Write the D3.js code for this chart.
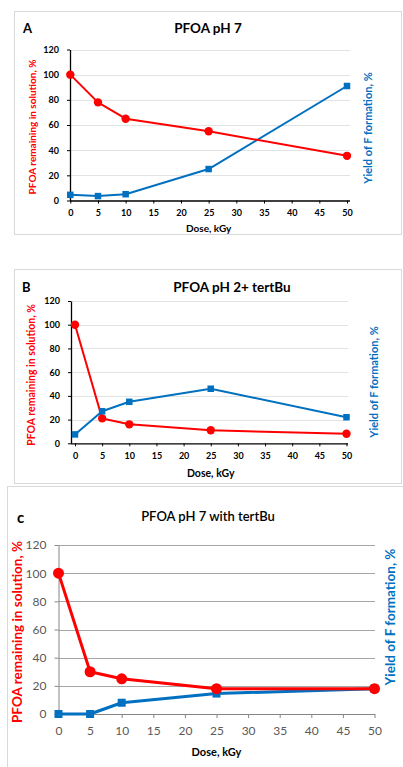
<!DOCTYPE html>
<html><head><meta charset="utf-8">
<script src="https://cdn.jsdelivr.net/npm/d3@7"></script>
<style>body{margin:0;background:#fff;}svg{display:block;}</style>
</head><body>
<svg id="chart" width="403" height="767"></svg>
<script>
// ---- data ----
const doses = [0, 5, 10, 25, 50];
const xTicks = [0, 5, 10, 15, 20, 25, 30, 35, 40, 45, 50];
const yTicks = [0, 20, 40, 60, 80, 100, 120];

const titleA = "PFOA pH 7";
const remainingA = [100, 78, 65, 55, 35.5];
const yieldA = [4.5, 3.5, 5, 25, 91];

const titleB = "PFOA pH 2+ tertBu";
const remainingB = [100, 21, 16, 11, 8];
const yieldB = [7.5, 27, 35, 46, 22];

const titleC = "PFOA pH 7 with tertBu";
const remainingC = [100, 30, 25, 18, 18];
const yieldC = [0, 0, 8, 14.5, 18];

const leftLabel = "PFOA remaining in solution, %";
const rightLabel = "Yield of F formation, %";
const xLabel = "Dose, kGy";

const RED = "#ff0000", BLUE = "#0070c0";
const svg = d3.select("#chart");

function panel(o) {
  const g = svg.append("g");
  // frame
  g.append("rect").attr("x", o.box[0]+0.5).attr("y", o.box[1]+0.5)
    .attr("width", o.box[2]-o.box[0]).attr("height", o.box[3]-o.box[1])
    .attr("fill", "#fff").attr("stroke", "#d9d9d9").attr("stroke-width", 1);
  const x = d3.scaleLinear().domain([0, 50]).range(o.xr);
  const y = d3.scaleLinear().domain([0, 120]).range(o.yr);
  // gridlines
  g.append("g").selectAll("line").data(yTicks.filter(t => t > 0)).join("line")
    .attr("x1", o.axisX).attr("x2", o.gridEnd)
    .attr("y1", d => Math.round(y(d)) + 0.5).attr("y2", d => Math.round(y(d)) + 0.5)
    .attr("stroke", o.gridColor).attr("stroke-width", 1);
  // x axis
  const xa = g.append("g").attr("transform", `translate(0,${y(0)})`)
    .call(d3.axisBottom(x).tickValues(xTicks).tickSize(o.tick).tickSizeOuter(0).tickPadding(o.xPad));
  xa.select(".domain").attr("stroke", o.axisColor).attr("stroke-width", o.axisW)
    .attr("d", `M${o.axisX},0.5H${o.gridEnd}`);
  xa.selectAll(".tick line").attr("stroke", o.axisColor);
  xa.selectAll("text").attr("font-family", o.font).attr("font-size", o.tickFs)
    .attr("font-weight", o.tickW).attr("fill", o.tickColor);
  // y axis
  const ya = g.append("g").attr("transform", `translate(${o.axisX},0)`)
    .call(d3.axisLeft(y).tickValues(yTicks).tickSize(o.tick).tickSizeOuter(0).tickPadding(o.yPad));
  ya.select(".domain").attr("stroke", o.axisColor).attr("stroke-width", o.axisW);
  ya.selectAll(".tick line").attr("stroke", o.axisColor);
  ya.selectAll("text").attr("font-family", o.font).attr("font-size", o.tickFs)
    .attr("font-weight", o.tickW).attr("fill", o.tickColor);
  // titles
  g.append("text").attr("x", o.titleX).attr("y", o.titleY).attr("text-anchor", "middle")
    .attr("font-family", o.font).attr("font-size", o.titleFs).attr("font-weight", o.titleW)
    .attr("fill", "#000").text(o.title);
  g.append("text").attr("x", o.letterX).attr("y", o.letterY)
    .attr("font-family", o.font).attr("font-size", o.letterFs).attr("font-weight", "bold")
    .attr("fill", "#000").text(o.letter);
  g.append("text").attr("x", (o.xr[0] + o.xr[1]) / 2 + o.xLabDx).attr("y", o.xLabY).attr("text-anchor", "middle")
    .attr("font-family", o.font).attr("font-size", o.labFs).attr("font-weight", "bold")
    .attr("fill", "#000").text(xLabel);
  g.append("text").attr("transform", `translate(${o.leftLab[0]},${o.leftLab[1]}) rotate(-90)`)
    .attr("text-anchor", "middle").attr("dominant-baseline", "central")
    .attr("font-family", o.font).attr("font-size", o.leftFs).attr("font-weight", "bold")
    .attr("fill", RED).text(leftLabel);
  g.append("text").attr("transform", `translate(${o.rightLab[0]},${o.rightLab[1]}) rotate(-90)`)
    .attr("text-anchor", "middle").attr("dominant-baseline", "central")
    .attr("font-family", o.font).attr("font-size", o.rightFs).attr("font-weight", "bold")
    .attr("fill", BLUE).text(rightLabel);
  // series
  const line = d3.line().x(d => x(d[0])).y(d => y(d[1]));
  const yd = doses.map((d, i) => [d, o.yieldV[i]]);
  const rd = doses.map((d, i) => [d, o.remV[i]]);
  g.append("path").datum(yd).attr("d", line).attr("fill", "none")
    .attr("stroke", BLUE).attr("stroke-width", o.lw).attr("stroke-linejoin", "round");
  g.append("path").datum(rd).attr("d", line).attr("fill", "none")
    .attr("stroke", RED).attr("stroke-width", o.lw).attr("stroke-linejoin", "round");
  const drawYield = () => g.append("g").selectAll("rect").data(yd).join("rect")
    .attr("x", d => x(d[0]) - o.sq / 2).attr("y", d => y(d[1]) - o.sq / 2)
    .attr("width", o.sq).attr("height", o.sq).attr("fill", BLUE);
  const drawRem = () => g.append("g").selectAll("circle").data(rd).join("circle")
    .attr("cx", d => x(d[0])).attr("cy", d => y(d[1])).attr("r", o.r).attr("fill", RED);
  if (o.yieldOnTop) { drawRem(); drawYield(); } else { drawYield(); drawRem(); }
}

const boldFont = "Lato, 'Open Sans', sans-serif";

panel({
  box: [14, 11, 401, 234], letter: "A", letterX: 23, letterY: 33, letterFs: 13,
  title: titleA, titleX: 208, titleY: 33, titleFs: 13.5, titleW: "bold",
  xr: [70.3, 347], yr: [200.5, 49.5], axisX: 70, gridEnd: 350,
  gridColor: "#e3e3e3", axisColor: "#000", axisW: 1.3, tick: 3, xPad: 6, yPad: 8,
  font: boldFont, tickFs: 9, tickW: "bold", tickColor: "#000",
  xLabY: 232, xLabDx: 0, labFs: 10, leftLab: [32, 127], leftFs: 10, rightLab: [367, 128], rightFs: 11,
  remV: remainingA, yieldV: yieldA, lw: 2, r: 4.2, sq: 6.5, yieldOnTop: false
});

panel({
  box: [14, 269, 401, 483], letter: "B", letterX: 22, letterY: 292, letterFs: 13,
  title: titleB, titleX: 232, titleY: 292, titleFs: 13.5, titleW: "bold",
  xr: [75, 346.5], yr: [443.3, 301], axisX: 71, gridEnd: 348,
  gridColor: "#e3e3e3", axisColor: "#000", axisW: 1.3, tick: 3, xPad: 6, yPad: 8,
  font: boldFont, tickFs: 9, tickW: "bold", tickColor: "#000",
  xLabY: 477, xLabDx: 0, labFs: 10.5, leftLab: [31, 375], leftFs: 10.5, rightLab: [373, 382], rightFs: 11,
  remV: remainingB, yieldV: yieldB, lw: 2, r: 4.2, sq: 6.5, yieldOnTop: true
});

panel({
  box: [7, 486, 410, 780], letter: "c", letterX: 17, letterY: 523, letterFs: 15,
  title: titleC, titleX: 208, titleY: 521, titleFs: 13, titleW: 600,
  xr: [58.5, 374.5], yr: [714, 545], axisX: 58.5, gridEnd: 375,
  gridColor: "#a6a6a6", axisColor: "#868686", axisW: 1, tick: 4, xPad: 8, yPad: 8,
  font: "Lato, 'Open Sans', sans-serif", tickFs: 12, tickW: "normal", tickColor: "#595959",
  xLabY: 756, xLabDx: 0, labFs: 11, leftLab: [17, 632], leftFs: 13.5, rightLab: [390, 617], rightFs: 13.5,
  remV: remainingC, yieldV: yieldC, lw: 3, r: 5.5, sq: 8, yieldOnTop: false
});
</script>
</body></html>
